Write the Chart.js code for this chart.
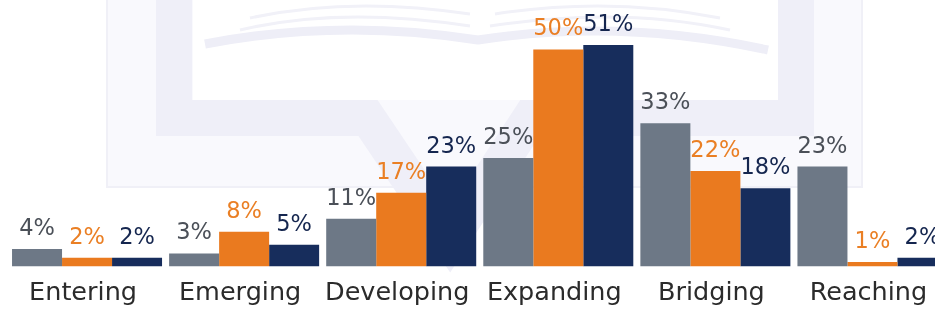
<!DOCTYPE html>
<html>
<head>
<meta charset="utf-8">
<script src="https://cdn.jsdelivr.net/npm/chart.js@4.4.1/dist/chart.umd.min.js"></script>
<style>
    html, body {
        margin: 0;
        padding: 0;
        background: #ffffff;
        overflow: hidden;
    }
    .chart-wrap {
        position: relative;
        width: 951px;
        height: 321px;
    }
    /* 背景水印（淡紫色书本图案） */
    .watermark {
        position: absolute;
        left: 0;
        top: 0;
        width: 951px;
        height: 321px;
        z-index: 0;
    }
    #levelChart {
        position: relative;
        z-index: 1;
    }
</style>
</head>
<body>
<div class="chart-wrap">
    <svg class="watermark" width="951" height="321" xmlns="http://www.w3.org/2000/svg">
        <rect x="107" y="-5" width="755" height="192" fill="#f9f9fd" stroke="#f0f0f7" stroke-width="2"/>
        <path d="M174,-20 L174,118 L368,118 L450,240 L530,118 L796,118 L796,-20" fill="none" stroke="#efeff8" stroke-width="36" stroke-linejoin="miter"/>
        <path d="M193,-5 L193,100 L778,100 L778,-5 Z" fill="#ffffff"/>
        <path d="M205,44 Q340,18 478,40 Q620,18 768,50" fill="none" stroke="#eeeef7" stroke-width="9"/>
        <path d="M240,30 Q340,6 470,26 M250,18 Q350,-4 470,14 M490,26 Q620,6 730,30 M495,14 Q610,-4 720,18" fill="none" stroke="#f1f1f8" stroke-width="3"/>
    </svg>
    <canvas id="levelChart"></canvas>
</div>
<script>
// 数据
const categories = ['Entering', 'Emerging', 'Developing', 'Expanding', 'Bridging', 'Reaching'];
const seriesGray = [4, 3, 11, 25, 33, 23];
const seriesOrange = [2, 8, 17, 50, 22, 1];
const seriesNavy = [2, 5, 23, 51, 18, 2];

const barColors = ['#6d7886', '#ea7a1f', '#172d5c'];
const labelColors = ['#4b5058', '#ea7f24', '#15264f'];

// 柱顶数值标签
const valueLabels = {
    id: 'valueLabels',
    afterDatasetsDraw(chart) {
        const ctx = chart.ctx;
        ctx.save();
        ctx.font = '22.5px "DejaVu Sans"';
        ctx.textAlign = 'center';
        ctx.textBaseline = 'alphabetic';
        chart.data.datasets.forEach((ds, i) => {
            const meta = chart.getDatasetMeta(i);
            ctx.fillStyle = labelColors[i];
            meta.data.forEach((bar, j) => {
                ctx.fillText(ds.data[j] + '%', bar.x, bar.y - 14);
            });
        });
        ctx.restore();
    }
};

document.addEventListener('DOMContentLoaded', function() {
    const el = document.getElementById('levelChart');
    new Chart(el, {
        type: 'bar',
        data: {
            labels: categories,
            datasets: [
                { data: seriesGray, backgroundColor: barColors[0] },
                { data: seriesOrange, backgroundColor: barColors[1] },
                { data: seriesNavy, backgroundColor: barColors[2] }
            ]
        },
        options: {
            responsive: true,
            maintainAspectRatio: false,
            animation: false,
            layout: {
                padding: { left: 8.5, right: 0, top: 0, bottom: 0 }
            },
            plugins: {
                legend: { display: false },
                tooltip: { enabled: false }
            },
            datasets: {
                bar: {
                    categoryPercentage: 0.955,
                    barPercentage: 1,
                    borderWidth: 0
                }
            },
            scales: {
                x: {
                    grid: { display: false, drawTicks: false },
                    border: { display: false },
                    ticks: {
                        color: '#2b2b2b',
                        font: { family: 'DejaVu Sans', size: 25.5 },
                        padding: 12,
                        labelOffset: -4,
                        maxRotation: 0,
                        autoSkip: false
                    }
                },
                y: {
                    display: false,
                    min: 0,
                    max: 61.4
                }
            }
        },
        plugins: [valueLabels]
    });
});
</script>
</body>
</html>
